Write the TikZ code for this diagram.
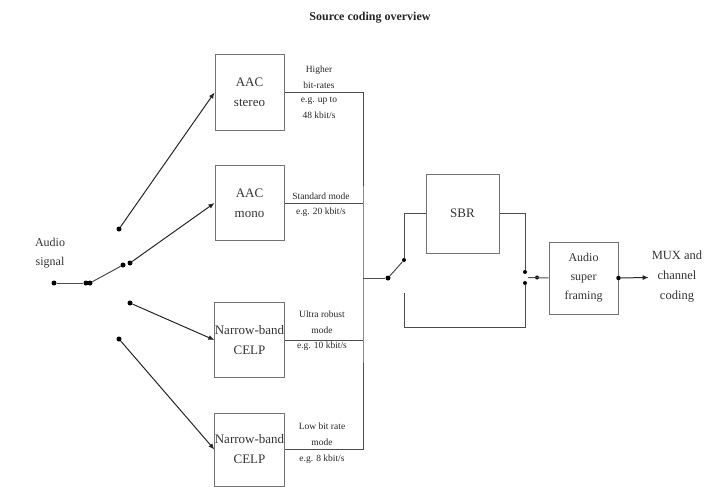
\documentclass[tikz,border=0pt]{standalone}
\usepackage{fontspec}
\setmainfont{Liberation Serif}
\usetikzlibrary{arrows.meta}

\tikzset{
  block/.style={draw=black!55, line width=1pt, minimum width=69pt, minimum height=75pt,
    inner sep=0pt, align=center, text=black!80, font=\fontsize{13}{20}\selectfont},
  wire/.style={draw=black!70, line width=1pt},
  feed/.style={draw=black!85, line width=1pt, -{Latex[length=6pt,width=5pt]}},
  jdot/.style={circle, fill=black, inner sep=0pt, minimum size=5pt},
  rate/.style={font=\fontsize{9.5}{16}\selectfont, align=center, inner sep=0pt, text=black!85},
  word/.style={font=\fontsize{12}{19}\selectfont, align=center, inner sep=0pt, text=black!80}
}

\begin{document}
\begin{tikzpicture}[x=1pt, y=-1pt]
  \useasboundingbox (0,0) rectangle (704,487);
  % title
  \node [font=\bfseries\fontsize{12}{14}\selectfont, text=black!85] (title) at (370,18) {Source coding overview};
  % coder blocks
  \node [block] (stereo) at (249.5,92.5) {AAC\\stereo};
  \node [block] (mono) at (249.5,203) {AAC\\mono};
  \node [block] (celpA) at (249.5,340) {Narrow-band\\CELP};
  \node [block, minimum height=73pt] (celpB) at (249.5,449.5) {Narrow-band\\CELP};
  \node [block, minimum width=73pt, minimum height=79pt] (sbr) at (462.5,213.5) {SBR};
  \node [block, minimum height=72pt, font=\fontsize{12}{19}\selectfont] (framing) at (583.5,278) {Audio\\super\\framing};
  % input switch
  \node [word] (audio) at (50,253) {Audio\\signal};
  \node [jdot] (src) at (54,283) {};
  \node [jdot] (pivA) at (86,283) {};
  \node [jdot] (pivB) at (90,283) {};
  \node [jdot] (arm) at (123,265) {};
  \node [jdot] (inA) at (119,229) {};
  \node [jdot] (inB) at (130,263) {};
  \node [jdot] (inC) at (130,303) {};
  \node [jdot] (inD) at (119,339) {};
  \draw [wire] (src) -- (pivA);
  \draw [wire] (pivB) -- (arm);
  \draw [feed] (inA) -- (stereo.west);
  \draw [feed] (inB) -- (mono.west);
  \draw [feed] (inC) -- (celpA.west);
  \draw [feed] (inD) -- (celpB.west);
  % outputs onto the bus
  \coordinate (bus) at (363,278);
  \draw [wire] (stereo.east) -| (bus) |- (celpB.east);
  \draw [wire] (mono.east) -- (mono.east -| bus);
  \draw [wire] (celpA.east) -- (celpA.east -| bus);
  \node [rate, anchor=south] (rateAu) at (319,89) {Higher\\bit-rates};
  \node [rate, anchor=north] (rateAl) at (319,97) {e.g. up to\\48 kbit/s};
  \node [rate, anchor=south] (rateBu) at (321,200) {Standard mode};
  \node [rate, anchor=north] (rateBl) at (321,208) {e.g. 20 kbit/s};
  \node [rate, anchor=south] (rateCu) at (322,334) {Ultra robust\\mode};
  \node [rate, anchor=north] (rateCl) at (322,342) {e.g. 10 kbit/s};
  \node [rate, anchor=south] (rateDu) at (322,446) {Low bit rate\\mode};
  \node [rate, anchor=north] (rateDl) at (322,455) {e.g. 8 kbit/s};
  % SBR switch
  \node [jdot] (pivC) at (388,278) {};
  \node [jdot, minimum size=4pt] (topC) at (404,260) {};
  \coordinate (lowC) at (404,293);
  \draw [wire] (bus) -- (pivC);
  \draw [wire] (pivC) -- (topC);
  \draw [wire] (topC) |- (sbr.west);
  \node [jdot, minimum size=4pt] (outA) at (525,272) {};
  \node [jdot, minimum size=4pt] (outB) at (525,283) {};
  \coordinate (corner) at (525,327);
  \draw [wire] (sbr.east) -| (outA);
  \draw [wire] (lowC) |- (corner) -- (outB);
  % framing and output
  \coordinate (tapR) at (528,277.5);
  \node [jdot, minimum size=4pt] (armR) at (537,277.5) {};
  \draw [wire] (tapR) -- (framing.west);
  \node [word, font=\fontsize{12.5}{20}\selectfont, inner sep=3pt] (mux) at (677,277) {MUX and\\channel\\coding};
  \node [jdot, minimum size=4.5pt] (tx) at (framing.east) {};
  \draw [feed] (tx) -- (mux);
\end{tikzpicture}
\end{document}
